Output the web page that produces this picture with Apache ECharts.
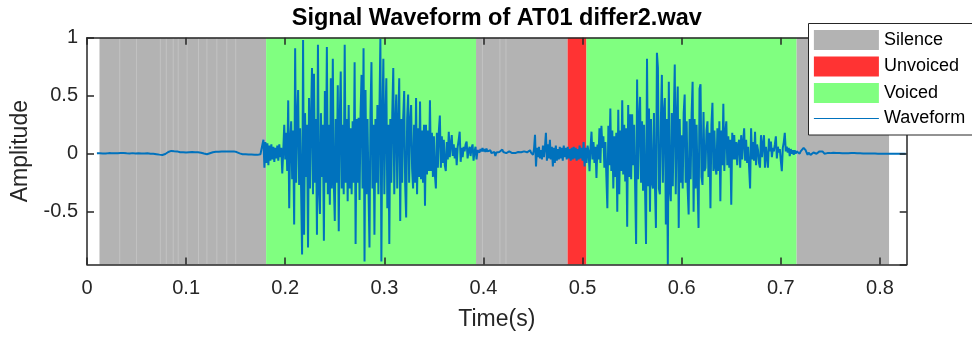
<!DOCTYPE html>
<html>
<head>
<meta charset="utf-8">
<script src="https://cdn.jsdelivr.net/npm/echarts@6/dist/echarts.min.js"></script>
<style>
html,body{margin:0;padding:0;background:#fff;}
#chart{width:972px;height:338px;}
</style>
</head>
<body>
<div id="chart"></div>
<script>
// ---- data ----
const titleText = 'Signal Waveform of AT01 differ2.wav';
const xName = 'Time(s)';
const yName = 'Amplitude';
const legendNames = ['Silence', 'Unvoiced', 'Voiced', 'Waveform'];
const xMin = 0, xMax = 0.827, xStep = 0.1;
const yMin = -0.956, yMax = 1;

// labelled segments [start, end] in seconds
const silenceSegs = [[0.0126, 0.1807], [0.3925, 0.4849], [0.7157, 0.8092]];
const unvoicedSegs = [[0.4849, 0.5039]];
const voicedSegs = [[0.1807, 0.3925], [0.5039, 0.7157]];
// frame seams visible inside silence patches
const silenceSeams = [0.033, 0.050, 0.074, 0.080, 0.087, 0.092, 0.101, 0.1125, 0.121, 0.131, 0.141, 0.150, 0.399, 0.4166, 0.4227];

// waveform: sampled at 1 kHz (display), starting at 0.010 s
const sampleRate = 1000;
const waveStart = 0.010;
const waveAmp = [
0.003,0.004,0.002,0.003,0.005,0.003,0.002,0.004,0.003,0.002,
0.004,0.003,0.005,0.004,0.002,0.003,0.004,0.006,0.004,0.003,
0.005,0.004,0.003,0.006,0.005,0.004,0.003,0.005,0.006,0.004,
0.003,0.005,0.004,0.002,0.004,0.006,0.005,0.003,0.004,0.002,
0.003,0.001,0.004,0.002,0.003,0.001,0.002,0.004,0.001,0.002,
0.001,0.003,0,0.002,-0.001,0.001,-0.002,0,-0.003,-0.002,
-0.004,-0.006,-0.005,-0.008,-0.010,-0.009,-0.011,-0.008,-0.006,-0.003,
0.002,0.008,0.015,0.022,0.026,0.024,0.030,0.026,0.021,0.024,
0.018,0.020,0.014,0.017,0.012,0.015,0.010,0.013,0.011,0.014,
0.010,0.013,0.016,0.012,0.015,0.011,0.014,0.012,0.010,0.013,
0.011,0.009,0.012,0.010,0.011,0.008,0.006,0.004,0.001,-0.002,
-0.004,-0.005,-0.003,0.000,0.004,0.008,0.011,0.013,0.015,0.014,
0.016,0.015,0.017,0.016,0.018,0.017,0.019,0.018,0.020,0.018,
0.019,0.017,0.020,0.018,0.021,0.019,0.020,0.022,0.020,0.019,
0.017,0.014,0.010,0.006,0.003,0.000,-0.002,-0.004,-0.003,-0.005,
-0.004,-0.006,-0.005,-0.007,-0.006,-0.008,-0.007,-0.009,-0.010,-0.008,
-0.009,-0.007,-0.010,-0.006,-0.009,-0.005,-0.008,-0.004,0.12,-0.12,
0.10,-0.08,0.09,-0.10,0.07,-0.06,0.08,-0.05,0.06,-0.07,
0.05,-0.04,0.07,-0.06,0.08,-0.03,0.05,-0.17,0.02,0.25,
-0.05,0.18,-0.15,0.46,-0.47,0.12,0.28,-0.22,0.20,-0.61,
0.91,-0.25,0.30,0.55,-0.27,0.22,-0.30,-0.87,0.98,-0.70,
0.35,-0.20,0.25,-0.81,0.48,-0.30,0.30,0.74,-0.35,0.69,
-0.25,0.30,-0.70,0.94,-0.30,-0.52,0.35,-0.20,0.25,-0.75,
0.54,-0.25,0.92,-0.35,0.25,-0.44,0.65,-0.30,0.82,-0.25,
-0.58,0.30,-0.25,0.59,-0.67,0.30,0.71,-0.30,0.25,-0.35,
0.94,-0.25,0.30,-0.41,0.42,-0.30,0.22,-0.35,0.28,-0.25,
0.79,-0.78,0.30,-0.25,0.31,-0.40,0.35,0.68,-0.30,0.91,
-0.93,0.55,-0.35,0.30,-0.30,-0.81,0.35,0.79,-0.30,0.25,
-0.70,0.30,-0.25,0.42,-0.35,0.35,0.99,-0.93,0.30,0.82,
-0.35,0.30,0.65,-0.47,0.25,-0.78,0.30,-0.25,0.35,0.74,
-0.35,0.25,0.51,-0.30,0.25,0.65,-0.58,0.30,-0.25,0.30,
0.54,-0.27,-0.55,0.30,0.51,-0.25,0.28,0.42,-0.13,-0.30,
0.25,-0.25,0.48,-0.35,0.22,-0.20,0.45,-0.22,0.20,-0.25,
0.25,-0.45,0.25,-0.18,0.20,-0.15,0.46,-0.15,0.18,-0.20,
0.15,-0.18,-0.30,0.18,-0.12,0.20,0.33,-0.12,0.15,-0.08,
0.12,-0.10,-0.15,0.10,-0.05,0.19,-0.03,0.08,0.16,-0.02,
0.08,-0.04,0.05,-0.10,0.06,0.12,0.19,-0.07,0.05,-0.03,
0.06,0.02,0.08,0.105,-0.04,0.03,0.06,-0.02,0.05,0.08,
-0.06,0.02,0.06,-0.05,0.03,0.045,0.01,0.04,0.02,0.05,
0.02,0.04,0.015,0.045,0.02,0.035,0.01,0.03,0.005,0.02,
-0.01,0.015,-0.02,0.01,0.02,0.025,0.015,0.03,0.02,0.035,
0.015,0.01,0.02,0.005,0.015,0.01,0.02,0.01,0.015,0.005,
0.01,0.015,0.005,0.012,0.008,0.015,0.01,0.02,0.012,0.018,
0.01,0.02,0.015,0.025,0.012,0.022,0.015,0.03,0.01,0.025,
-0.01,0.04,0.163,-0.11,0.05,-0.03,0.06,-0.04,0.03,-0.05,
0.07,-0.03,0.05,0.18,-0.06,0.08,-0.04,0.12,-0.05,0.06,
-0.11,0.05,-0.08,0.07,-0.06,0.04,-0.05,0.06,-0.04,0.05,
-0.06,0.07,-0.03,0.05,-0.05,0.06,-0.04,0.04,-0.06,0.05,
-0.05,0.06,-0.04,0.05,-0.06,0.04,-0.05,0.07,-0.04,0.05,
-0.06,0.10,-0.11,0.05,-0.08,0.07,0.02,-0.15,0.05,0.19,
-0.05,0.10,-0.08,0.06,-0.21,0.08,-0.05,0.22,-0.08,0.24,
0.05,0.15,-0.12,0.10,-0.20,-0.47,0.24,-0.10,0.39,-0.15,
0.20,-0.30,0.15,-0.20,0.18,-0.50,0.38,-0.35,0.20,-0.15,
0.46,-0.18,0.25,-0.24,0.22,-0.63,0.42,-0.20,0.34,-0.22,
0.34,-0.10,0.25,-0.28,-0.78,0.64,-0.22,0.30,0.49,-0.25,
0.28,-0.32,0.25,-0.30,-0.78,0.82,-0.28,0.39,-0.50,0.30,
-0.25,-0.30,0.35,-0.28,-0.64,0.87,0.74,-0.30,-0.35,0.30,
0.68,-0.25,0.35,0.48,-0.61,0.30,-0.955,0.62,-0.30,-0.41,
0.35,-0.28,0.30,0.77,-0.35,0.30,0.58,-0.64,0.30,-0.25,
0.16,-0.30,0.35,0.51,-0.25,0.28,-0.30,-0.525,0.30,-0.22,
0.34,0.62,-0.50,0.30,-0.30,0.25,-0.25,-0.64,0.56,0.60,
-0.20,-0.27,0.36,-0.15,-0.12,0.20,0.28,-0.20,0.18,-0.47,
0.25,0.44,-0.15,0.20,-0.12,-0.18,0.22,-0.15,0.28,-0.41,
0.20,-0.10,0.43,-0.15,0.18,0.28,-0.10,0.15,-0.12,0.12,
-0.44,0.18,-0.05,0.16,-0.05,0.10,-0.10,0.08,0.12,-0.12,
0.16,-0.05,0.10,0.22,-0.06,0.12,-0.08,0.06,-0.12,-0.30,
0.22,-0.05,0.10,-0.06,0.19,-0.10,0.08,0.03,-0.08,-0.12,
0.16,-0.03,0.08,0.16,-0.12,0.06,-0.02,-0.12,0.13,0.02,
0.105,-0.03,0.05,0.02,0.08,0.15,-0.04,0.06,0.01,0.04,
-0.06,-0.15,0.05,0.10,0.18,0.02,0.06,0.01,0.05,-0.02,
0.04,0.00,0.03,-0.01,0.03,0.00,0.02,0.01,0.03,0.00,
0.02,0.01,0.03,0.05,0.06,0.03,0.01,-0.01,0.01,0.00,
-0.01,-0.02,0.00,0.01,0.02,0.01,0.00,-0.01,0.01,0.02,
0.015,0.005,0.02,0.01,0.00,0.01,0.015,0.005,0.01,0.00,
0.005,0.01,0.00,0.008,0.004,0.01,0.006,0.008,0.004,0.006,
0.005,0.007,0.004,0.006,0.005,0.004,0.006,0.005,0.004,0.005,
0.004,0.005,0.003,0.004,0.005,0.003,0.004,0.003,0.004,0.003,
0.003,0.002,0.003,0.002,0.003,0.002,0.002,0.001,0.002,0.001,
0.001,0.002,0.001,0.001,0.000,0.001,0.000,0.001,0.000,0.000,
0,0,0,0,0,0,0,0,0,0,
0,0,0,0,0,0,0,0,0,0,
0,0,0,0,0,0,0
];

// ---- styling ----
const FONT = '"Liberation Sans", Arial, Helvetica, sans-serif';
const AX = '#262626';
const colSilence = '#b3b3b3', colUnvoiced = '#ff3333', colVoiced = '#80ff80', colWave = '#0072bd';

const waveData = waveAmp.map((v, i) => [waveStart + i / sampleRate, v]);

function segRender(color) {
  return function (params, api) {
    const a = api.coord([api.value(0), 0]);
    const b = api.coord([api.value(1), 0]);
    const cs = params.coordSys;
    return {type: 'rect', shape: {x: a[0], y: cs.y, width: b[0] - a[0], height: cs.height},
            style: {fill: color}};
  };
}

const chart = echarts.init(document.getElementById('chart'), null, {renderer: 'canvas'});

const axisCommon = {
  axisLine: {show: true, onZero: false, lineStyle: {color: AX, width: 1.5}},
  axisTick: {show: true, inside: true, length: 7, lineStyle: {color: AX, width: 1.5}},
  splitLine: {show: false},
  z: 10
};

chart.setOption({
  animation: false,
  backgroundColor: '#fff',
  grid: {left: 87, top: 37.8, width: 819.7, height: 226.7, containLabel: false},
  graphic: [
    {
      type: 'text', x: 496.8, y: 18.6, z: 30,
      style: {text: titleText, font: 'bold 23.5px ' + FONT, fill: '#000',
              textAlign: 'center', textVerticalAlign: 'middle', align: 'center', verticalAlign: 'middle'}
    },
    {
      // legend frame (runs past the right edge of the picture, as in the original)
      type: 'rect', z: 15, x: 808.5, y: 23.5,
      shape: {x: 0, y: 0, width: 200, height: 111.5},
      style: {fill: '#fff', stroke: AX, lineWidth: 1}
    }
  ],
  legend: {
    orient: 'vertical', left: 808, top: 23.3, z: 20,
    padding: [6.7, 10, 5.7, 5.3],
    backgroundColor: 'transparent', borderWidth: 0,
    itemWidth: 65, itemHeight: 20, itemGap: 6.5,
    selectedMode: false,
    textStyle: {fontSize: 18, fontFamily: FONT, color: '#000'},
    data: [
      {name: legendNames[0], icon: 'rect'},
      {name: legendNames[1], icon: 'rect'},
      {name: legendNames[2], icon: 'rect'},
      {name: legendNames[3], itemStyle: {opacity: 0}, lineStyle: {width: 1.2, color: colWave}}
    ]
  },
  xAxis: [
    Object.assign({}, axisCommon, {
      type: 'value', position: 'bottom', min: xMin, max: xMax, interval: xStep,
      axisLabel: {color: AX, fontSize: 20, fontFamily: FONT, margin: 14, showMaxLabel: false},
      name: xName, nameLocation: 'middle', nameGap: 44,
      nameTextStyle: {color: AX, fontSize: 23, fontFamily: FONT}
    }),
    Object.assign({}, axisCommon, {
      type: 'value', position: 'top', min: xMin, max: xMax, interval: xStep,
      axisLabel: {show: false}
    })
  ],
  yAxis: [
    Object.assign({}, axisCommon, {
      type: 'value', position: 'left', min: yMin, max: yMax, splitNumber: 4,
      axisLabel: {color: AX, fontSize: 20, fontFamily: FONT, margin: 9, showMinLabel: false},
      name: yName, nameLocation: 'middle', nameGap: 50,
      nameTextStyle: {color: AX, fontSize: 23, fontFamily: FONT}
    }),
    Object.assign({}, axisCommon, {
      type: 'value', position: 'right', min: yMin, max: yMax, splitNumber: 4,
      axisLabel: {show: false}
    })
  ],
  series: [
    {name: legendNames[0], type: 'custom', z: 1, data: silenceSegs, encode: {x: [0, 1]},
     itemStyle: {color: colSilence}, renderItem: segRender(colSilence), silent: true},
    {name: legendNames[1], type: 'custom', z: 1, data: unvoicedSegs, encode: {x: [0, 1]},
     itemStyle: {color: colUnvoiced}, renderItem: segRender(colUnvoiced), silent: true},
    {name: legendNames[2], type: 'custom', z: 1, data: voicedSegs, encode: {x: [0, 1]},
     itemStyle: {color: colVoiced}, renderItem: segRender(colVoiced), silent: true},
    {name: 'seams', type: 'custom', z: 1.5, data: silenceSeams.map(t => [t]), encode: {x: 0},
     silent: true,
     renderItem: function (params, api) {
       const p = api.coord([api.value(0), 0]);
       const cs = params.coordSys;
       return {type: 'line', shape: {x1: p[0], y1: cs.y, x2: p[0], y2: cs.y + cs.height},
               style: {stroke: '#c2c2c2', lineWidth: 1}};
     }},
    {name: legendNames[3], type: 'line', z: 3, data: waveData, showSymbol: false, symbol: 'none',
     sampling: null, silent: true,
     lineStyle: {color: colWave, width: 2}, itemStyle: {color: colWave}}
  ]
});
</script>
</body>
</html>
